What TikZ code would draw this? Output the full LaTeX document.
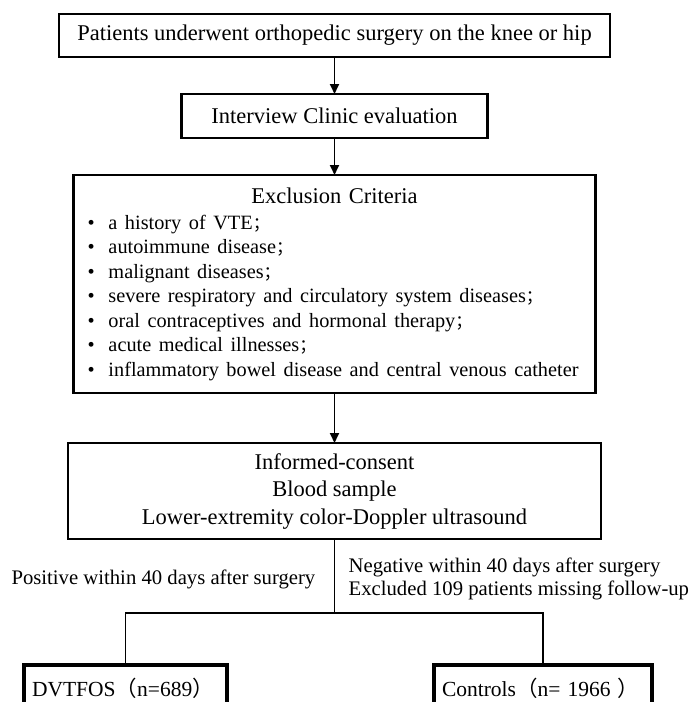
\documentclass[tikz,border=0pt]{standalone}
\usepackage{fontspec}
\setmainfont{Liberation Serif}
\newfontfamily\cjk{Noto Sans CJK SC}
\usetikzlibrary{positioning,arrows.meta,calc}

\newcommand{\bullitem}[1]{\makebox[21pt][l]{\textbullet}\mbox{#1}}
\newcommand{\semi}{{\cjk\fontsize{17}{20}\selectfont ；}}

\begin{document}
\begin{tikzpicture}[
    x=1pt, y=1pt,
    node distance=37pt,
    box/.style={rectangle, draw, line width=2.8pt, outer sep=0pt, align=center, inner sep=0pt, font=\fontsize{22.5}{27.5}\selectfont},
    endbox/.style={rectangle, draw, line width=3.2pt, outer sep=0pt, align=left, inner xsep=8pt, inner ysep=0pt, minimum height=46pt, font=\fontsize{21.5}{26}\selectfont},
    arrow/.style={-{Triangle[length=10pt,width=9pt]}, line width=1.8pt},
    link/.style={line width=1.8pt},
    note/.style={inner sep=0pt, align=left, font=\fontsize{20.7}{23}\selectfont}
]
\useasboundingbox (0,0) rectangle (691,-702);
\clip (0,0) rectangle (691,-702);

% Nodes
\node[box, minimum width=551pt, minimum height=43pt] (surgery) at (334.5,-35.5) {Patients underwent orthopedic surgery on the knee or hip};
\node[box, below=of surgery, minimum width=306pt, minimum height=44pt] (clinic) {Interview Clinic evaluation};
\node[box, below=of clinic, minimum width=522pt, minimum height=218pt, text width=494pt, align=left] (exclusion) {%
    \makebox[\linewidth][c]{Exclusion Criteria}\par\vspace{1.5pt}
    {\fontsize{20.3}{24.5}\selectfont
    \bullitem{a history of VTE\semi}\\
    \bullitem{autoimmune disease\semi}\\
    \bullitem{malignant diseases\semi}\\
    \bullitem{severe respiratory and circulatory system diseases\semi}\\
    \bullitem{oral contraceptives and hormonal therapy\semi}\\
    \bullitem{acute medical illnesses\semi}\\
    \bullitem{inflammatory bowel disease and central venous catheter}\par}};
\node[box, below=50pt of exclusion, minimum width=533pt, minimum height=96pt] (consent) {Informed-consent\\Blood sample\\Lower-extremity color-Doppler ultrasound};
\coordinate[below=74pt of consent] (split);
\node[endbox, below left=52pt and 107.5pt of split, text width=187pt] (dvt) {DVTFOS{\cjk （}n=689{\cjk ）}};
\node[endbox, below right=52pt and 99.5pt of split, text width=202pt] (controls) {Controls{\cjk （}n= 1966 {\cjk ）}};

% Arrows
\draw[arrow] (surgery) -- (clinic);
\draw[arrow] (clinic) -- (exclusion);
\draw[arrow] (exclusion) -- (consent);
\draw[link] (consent) -- (split);
\draw[link] (split) -| (dvt.north);
\draw[link] (split) -| (controls.north);

% Labels
\node[note, anchor=east, xshift=-19pt, yshift=-3pt] (positive) at ($(consent.south)!0.5!(split)$) {Positive within 40 days after surgery};
\node[note, anchor=west, xshift=14pt, yshift=-2.5pt] (negative) at ($(consent.south)!0.5!(split)$) {Negative within 40 days after surgery\\Excluded 109 patients missing follow-up};

\end{tikzpicture}
\end{document}
